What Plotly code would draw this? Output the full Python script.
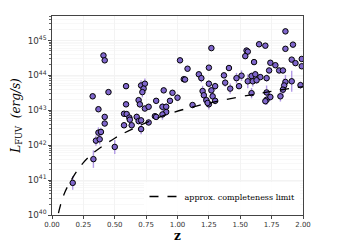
import plotly.graph_objects as go

# Observed sources: redshift, log10 L_FUV, error (dex)
z_obs = [0.165, 0.33, 0.50, 0.35, 0.38, 0.37, 0.39, 0.42, 0.42, 0.37,
         0.574, 0.595, 0.616, 0.62, 0.574, 0.635, 0.675, 0.69, 0.41, 0.42,
         0.324, 0.45, 0.59, 0.59, 0.69, 0.71, 0.74, 0.73, 0.72, 0.70,
         0.74, 0.77, 0.71, 0.77, 0.82, 0.71, 1.27, 1.02, 1.25, 1.08,
         1.17, 1.05, 1.06, 1.19, 1.25, 1.30, 0.89, 0.96, 1.20, 1.21,
         1.27, 1.28, 1.00, 0.94, 0.88, 0.91, 0.91, 0.88, 1.12, 1.23,
         1.25, 1.30, 0.83, 0.83, 1.86, 1.65, 1.70, 1.92, 1.86, 1.55,
         1.56, 1.54, 1.91, 1.94, 1.99, 1.99, 1.61, 1.74, 1.78, 1.41,
         1.73, 1.81, 1.84, 1.37, 1.51, 1.59, 1.62, 1.66, 1.47, 1.71,
         1.56, 1.60, 1.63, 1.38, 1.42, 1.49, 1.86, 1.85, 1.91, 1.84,
         1.98, 1.59, 1.71, 1.71, 1.74, 1.82, 1.70, 1.24]
logL_obs = [40.92, 41.6, 41.95, 42.13, 42.17, 42.36, 42.38, 42.62, 42.81, 43.03,
            42.9, 42.89, 42.79, 42.73, 42.57, 42.57, 42.81, 42.69, 44.57, 44.43,
            43.4, 43.52, 43.69, 43.17, 43.29, 43.71, 43.76, 43.62, 43.52, 43.17,
            43.05, 43.1, 42.71, 42.65, 42.83, 42.46, 44.78, 44.43, 44.22, 44.19,
            44.03, 43.89, 43.88, 43.92, 43.76, 43.69, 43.57, 43.5, 43.55, 43.43,
            43.57, 43.4, 43.36, 43.27, 43.1, 43.1, 42.95, 42.88, 43.15, 43.29,
            43.17, 43.27, 43.27, 42.81, 45.26, 44.89, 44.85, 44.88, 44.76, 44.71,
            44.68, 44.55, 44.45, 44.35, 44.47, 44.26, 44.38, 44.36, 44.29, 44.21,
            44.14, 44.14, 44.14, 44.0, 43.99, 43.98, 44.03, 43.95, 43.92, 43.92,
            43.83, 43.83, 43.86, 43.79, 43.62, 43.69, 43.81, 43.71, 43.83, 43.59,
            43.72, 43.49, 43.51, 43.3, 43.38, 43.4, 43.26, 43.21]
err_dex = [0.2, 0.25, 0.2, 0.15, 0.15, 0.15, 0.12, 0.08, 0.08, 0.08,
           0.05, 0.05, 0.05, 0.05, 0.05, 0.08, 0.1, 0.1, 0.05, 0.05,
           0.05, 0.05, 0.05, 0.08, 0.08, 0.15, 0.15, 0.15, 0.15, 0.1,
           0.08, 0.08, 0.1, 0.08, 0.08, 0.15, 0.05, 0.05, 0.05, 0.05,
           0.08, 0.08, 0.08, 0.12, 0.1, 0.1, 0.05, 0.05, 0.15, 0.2,
           0.1, 0.1, 0.1, 0.08, 0.1, 0.1, 0.1, 0.15, 0.05, 0.12,
           0.15, 0.1, 0.05, 0.05, 0.05, 0.05, 0.05, 0.05, 0.05, 0.08,
           0.08, 0.08, 0.05, 0.05, 0.05, 0.05, 0.05, 0.08, 0.05, 0.05,
           0.08, 0.05, 0.08, 0.05, 0.15, 0.1, 0.1, 0.08, 0.15, 0.1,
           0.2, 0.15, 0.1, 0.12, 0.15, 0.05, 0.2, 0.2, 0.3, 0.2,
           0.1, 0.15, 0.2, 0.15, 0.1, 0.15, 0.1, 0.1]

# Completeness limit curve
z_lim = [0.03, 0.048, 0.1, 0.17, 0.25, 0.33, 0.5, 0.65, 0.9, 1.15, 1.35, 1.6, 1.8, 2.0]
logL_lim = [39.55, 40.0, 40.63, 41.1, 41.5, 41.78, 42.2, 42.48, 42.86, 43.12, 43.28, 43.45, 43.57, 43.68]

L_obs = [10 ** v for v in logL_obs]
err_plus = [10 ** (v + e) - 10 ** v for v, e in zip(logL_obs, err_dex)]
err_minus = [10 ** v - 10 ** (v - e) for v, e in zip(logL_obs, err_dex)]
L_lim = [10 ** v for v in logL_lim]

fig = go.Figure()
fig.add_trace(go.Scatter(
    x=z_obs, y=L_obs, mode="markers", showlegend=False,
    marker=dict(size=5.5, color="#7f66cc", line=dict(color="black", width=1)),
    error_y=dict(type="data", symmetric=False, array=err_plus, arrayminus=err_minus,
                 color="rgba(160,130,225,0.8)", thickness=1.4, width=0),
))
fig.add_trace(go.Scatter(
    x=z_lim, y=L_lim, mode="lines", name="approx. completeness limit",
    line=dict(color="black", width=1.3, dash="dash", shape="spline"),
))

axis_common = dict(
    showline=True, linecolor="#444", linewidth=1, mirror=True,
    ticks="outside", ticklen=3, tickcolor="#444",
    gridcolor="#f3f3f3", zeroline=False, automargin=False,
    tickfont=dict(family="DejaVu Sans", size=7, color="#333"),
)
fig.update_xaxes(range=[0, 2], dtick=0.25, tickformat=".2f",
                 title=dict(text="<b>z</b>", font=dict(family="DejaVu Serif", size=12, color="black"), standoff=2),
                 **axis_common)
fig.update_yaxes(type="log", range=[40, 45.7], dtick=1, exponentformat="power",
                 minor=dict(ticks="outside", ticklen=2, tickcolor="#666", showgrid=True, gridcolor="#f8f8f8"),
                 title=dict(text="<i>L</i><sub>FUV</sub>  <i>(erg/s)</i>",
                            font=dict(family="DejaVu Serif", size=12, color="black"), standoff=4),
                 **axis_common)

fig.update_layout(
    width=342, height=242,
    margin=dict(l=44, r=47, t=8, b=35),
    plot_bgcolor="white", paper_bgcolor="white",
    legend=dict(x=0.99, y=0.02, xanchor="right", yanchor="bottom",
                bgcolor="rgba(255,255,255,0.9)",
                font=dict(family="DejaVu Serif", size=8, color="black")),
)

fig.write_html("out.html")
